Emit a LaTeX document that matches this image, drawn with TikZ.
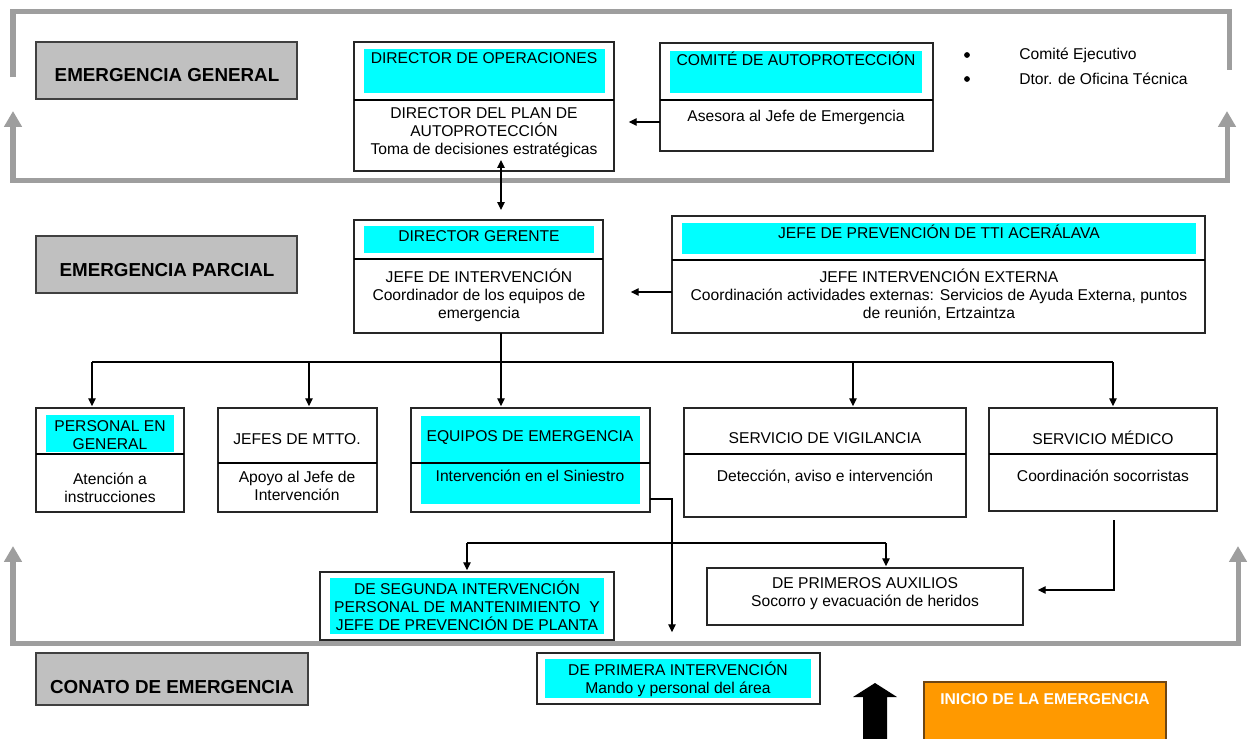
\documentclass[tikz,border=0pt]{standalone}
\usepackage{fontspec}
\setmainfont{Liberation Sans}
\usepackage{xcolor}
\usepackage{tikz}
\usetikzlibrary{arrows.meta}

\definecolor{hicyan}{RGB}{0,255,255}
\definecolor{lvgray}{RGB}{192,192,192}
\definecolor{bandgray}{RGB}{158,158,158}
\definecolor{orangebox}{RGB}{255,153,0}
\definecolor{orangeedge}{RGB}{110,70,20}

\newcommand{\txt}{\fontsize{8.9}{10.2}\selectfont}
\newcommand{\lvtxt}{\fontsize{10.7}{12}\selectfont\bfseries}

\begin{document}
\begin{tikzpicture}[x=0.02cm, y=-0.02cm,
  cell/.style={draw=black!85, line width=0.7pt, inner sep=0pt, outer sep=0pt},
  level/.style={cell, draw=black!75, fill=lvgray},
  lbl/.style={font=\txt, align=center, inner sep=0pt},
  lvlbl/.style={font=\lvtxt, inner sep=0pt},
  dot/.style={circle, fill=black, inner sep=0pt, minimum size=3.3pt},
  link/.style={-{Triangle[length=4.5pt,width=4.2pt]}, line width=0.7pt, shorten >=1pt},
  bilink/.style={{Triangle[length=4.5pt,width=4.2pt]}-{Triangle[length=4.5pt,width=4.2pt]}, line width=0.7pt},
  band/.style={draw=bandgray, line width=2.85pt},
  twotips/.style={{Triangle[length=9pt,width=9.7pt]}-{Triangle[length=9pt,width=9.7pt]}}]
\newcommand{\px}{0.02cm} % one pixel
\newcommand{\cellbox}[6][cell]{\node[#1, anchor=north west, minimum width={(#5-#3)*\px}, minimum height={(#6-#4)*\px}] (#2) at (#3,#4) {};}

\useasboundingbox (0,0) rectangle (1249,738);

% gray bands
\draw[band] (13,77) -- (13,11) -- (1229,11) -- (1229,70);
\draw[band, twotips] (13,111) -- (13,180) -- (1227,180) -- (1227,111);
\draw[band, twotips] (13,546) -- (13,643) -- (1238,643) -- (1238,546);

% levels
\cellbox[level]{General}{36}{42}{297}{99}
\cellbox[level]{Parcial}{36}{236}{297}{293}
\cellbox[level]{Conato}{36}{653}{308}{705}
\node[lvlbl] (GeneralT) at (167,75) {EMERGENCIA GENERAL};
\node[lvlbl] (ParcialT) at (167,270) {EMERGENCIA PARCIAL};
\node[lvlbl] (ConatoT) at (172,687) {CONATO DE EMERGENCIA};

% top row
\cellbox{DirOp}{354}{42}{614}{171}
\fill[hicyan] (364,49) rectangle (605,93);
\draw[line width=0.7pt] (DirOp.west |- 0,100) -- (DirOp.east |- 0,100);
\node[lbl] (DirOpT) at (484,58) {DIRECTOR DE OPERACIONES};
\node[lbl] (DirOpD) at (484,133) {DIRECTOR DEL PLAN DE\\AUTOPROTECCIÓN\\Toma de decisiones estratégicas};

\cellbox{Comite}{660}{43}{933}{151}
\fill[hicyan] (670,51) rectangle (922,93);
\draw[line width=0.7pt] (Comite.west |- 0,100) -- (Comite.east |- 0,100);
\node[lbl] (ComiteT) at (796,59) {COMITÉ DE AUTOPROTECCIÓN};
\node[lbl] (ComiteD) at (796,117) {Asesora al Jefe de Emergencia};

\node[dot] (B1) at (967,55) {};
\node[lbl, anchor=west] (Ejec) at (1019,55) {Comité Ejecutivo};
\node[dot] (B2) at (967,79) {};
\node[lbl, anchor=west] (Ofic) at (1019,79) {Dtor. de Oficina Técnica};

\coordinate (DirIn) at (627,122);
\draw[link] (Comite.west |- DirIn) -- (DirIn);

\coordinate (UpTip) at (501,160);
\coordinate (DnTip) at (501,210);
\draw[bilink] (UpTip) -- (DnTip);

% middle row
\cellbox{Gerente}{354}{220}{603}{333}
\fill[hicyan] (364,226) rectangle (594,253);
\draw[line width=0.7pt] (Gerente.west |- 0,259) -- (Gerente.east |- 0,259);
\node[lbl] (GerenteT) at (479,236) {DIRECTOR GERENTE};
\node[lbl] (GerenteD) at (479,295) {JEFE DE INTERVENCIÓN\\Coordinador de los equipos de\\emergencia};

\cellbox{Externa}{672}{216}{1205}{333}
\fill[hicyan] (682,223) rectangle (1196,254);
\draw[line width=0.7pt] (Externa.west |- 0,260) -- (Externa.east |- 0,260);
\node[lbl] (ExternaT) at (939,232) {JEFE DE PREVENCIÓN DE TTI ACERÁLAVA};
\node[lbl] (ExternaD) at (939,295) {JEFE INTERVENCIÓN EXTERNA\\Coordinación actividades externas: Servicios de Ayuda Externa, puntos\\de reunión, Ertzaintza};

\coordinate (GerIn) at (629,292);
\draw[link] (Externa.west |- GerIn) -- (GerIn);

% third row
\cellbox{Personal}{36}{408}{184}{512}
\fill[hicyan] (46,415) rectangle (174,452);
\draw[line width=0.7pt] (Personal.west |- 0,454) -- (Personal.east |- 0,454);
\node[lbl] (PersonalT) at (110,435) {PERSONAL EN\\GENERAL};
\node[lbl] (PersonalD) at (110,488) {Atención a\\instrucciones};

\cellbox{Mtto}{218}{408}{377}{512}
\draw[line width=0.7pt] (Mtto.west |- 0,463) -- (Mtto.east |- 0,463);
\node[lbl] (MttoT) at (297,439) {JEFES DE MTTO.};
\node[lbl] (MttoD) at (297,486) {Apoyo al Jefe de\\Intervención};

\cellbox{Equipos}{411}{408}{650}{512}
\fill[hicyan] (421,416) rectangle (640,504);
\draw[line width=0.7pt] (Equipos.west |- 0,463) -- (Equipos.east |- 0,463);
\node[lbl] (EquiposT) at (530,438) {EQUIPOS DE EMERGENCIA};
\node[lbl] (EquiposD) at (530,476) {Intervención en el Siniestro};

\cellbox{Vigil}{684}{408}{966}{517}
\draw[line width=0.7pt] (Vigil.west |- 0,454) -- (Vigil.east |- 0,454);
\node[lbl] (VigilT) at (825,438) {SERVICIO DE VIGILANCIA};
\node[lbl] (VigilD) at (825,477) {Detección, aviso e intervención};

\cellbox{Medico}{989}{408}{1217}{511}
\draw[line width=0.7pt] (Medico.west |- 0,454) -- (Medico.east |- 0,454);
\node[lbl] (MedicoT) at (1103,438) {SERVICIO MÉDICO};
\node[lbl] (MedicoD) at (1103,476) {Coordinación socorristas};

% distribution from the director gerente
\coordinate (Hub) at (501,362);
\draw[line width=0.7pt] (Gerente.south -| Hub) -- (Hub);
\draw[line width=0.7pt] (92,362) -- (1113,362);
\foreach \n/\x in {Personal/92, Mtto/309, Equipos/501, Vigil/853, Medico/1113}
  \draw[link] (\x,362) -- (\n.north -| \x,0);

% fourth row
\cellbox{Segunda}{320}{572}{614}{640}
\fill[hicyan] (330,578) rectangle (604,634);
\node[lbl] (SegundaT) at (467,606) {DE SEGUNDA INTERVENCIÓN\\PERSONAL DE MANTENIMIENTO~ Y\\JEFE DE PREVENCIÓN DE PLANTA};

\cellbox{Auxilios}{707}{568}{1023}{625}
\node[lbl] (AuxiliosT) at (865,594) {DE PRIMEROS AUXILIOS\\Socorro y evacuación de heridos};

\cellbox{Primera}{537}{653}{820}{704}
\fill[hicyan] (545,659) rectangle (811,698);
\node[lbl] (PrimeraT) at (678,679) {DE PRIMERA INTERVENCIÓN\\Mando y personal del área};

% connectors of the lower part
\coordinate (Drop) at (672,634);
\draw[link] (Equipos.east |- 0,499) -- (Drop |- 0,499) -- (Drop);
\coordinate (BrL) at (467,543);
\coordinate (BrR) at (886,543);
\draw[line width=0.7pt] (BrL) -- (BrR);
\draw[link] (BrL) -- (Segunda.north -| BrL);
\draw[link] (BrR) -- (Auxilios.north -| BrR);
\coordinate (MedOut) at (1114,520);
\coordinate (AuxIn) at (1036,590);
\draw[link] (MedOut) -- (MedOut |- AuxIn) -- (AuxIn);

% start of the emergency
\fill (863,745) -- (863,697) -- (853,697) -- (875,683) -- (897,697) -- (887,697) -- (887,745) -- cycle;
\cellbox[cell, draw=orangeedge, fill=orangebox]{Inicio}{924}{682}{1166}{750}
\node[font=\txt\bfseries, text=white, inner sep=0pt] (InicioT) at (1045,699) {INICIO DE LA EMERGENCIA};
\end{tikzpicture}
\end{document}
